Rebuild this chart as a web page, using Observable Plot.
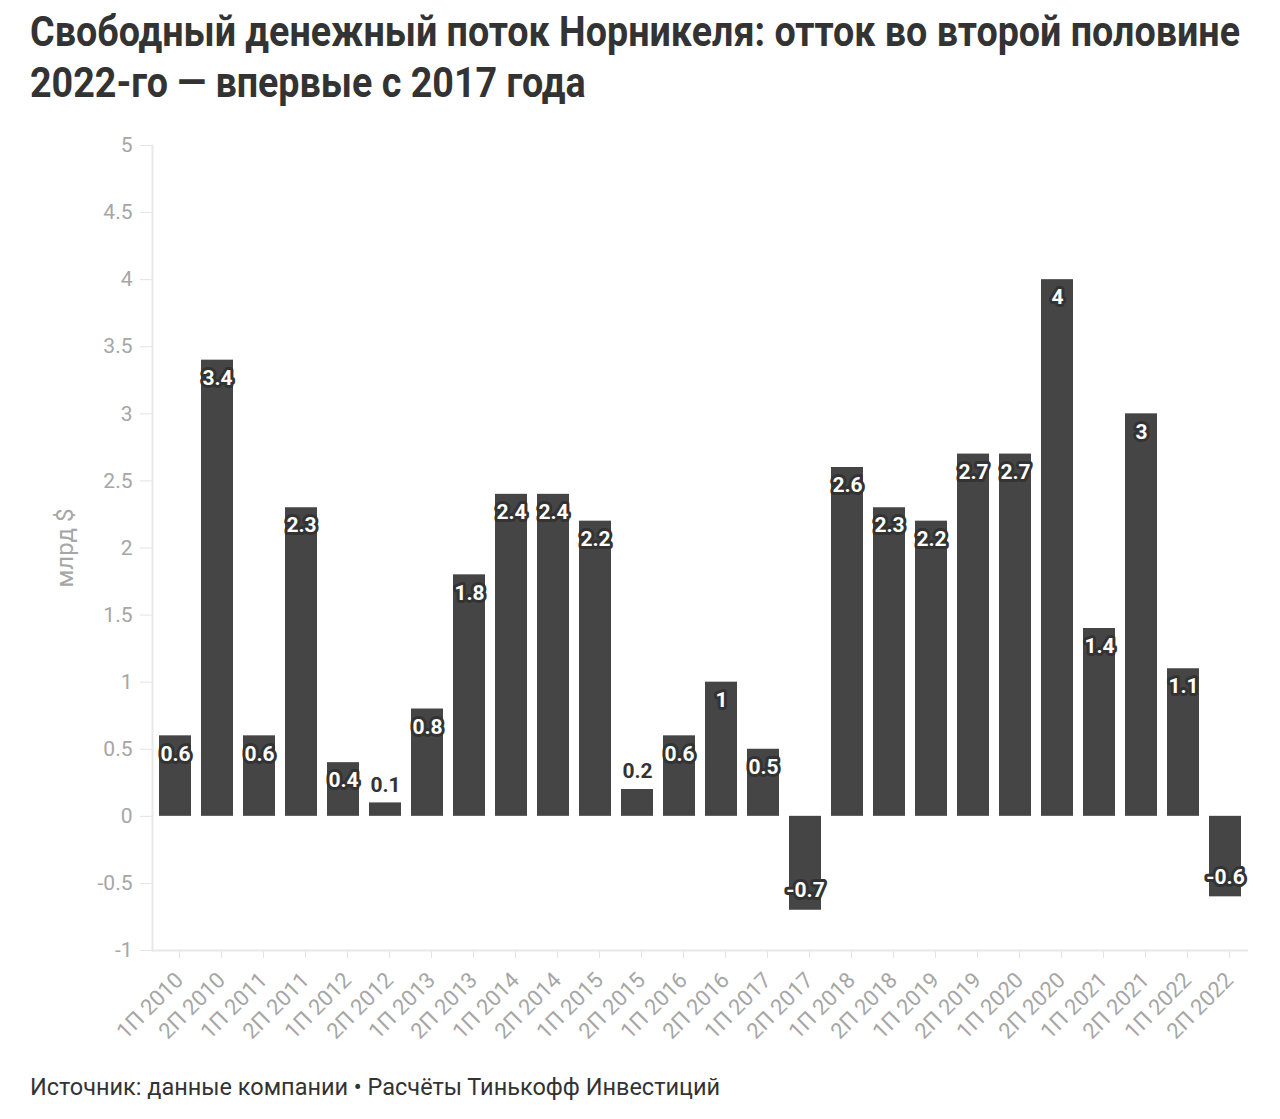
<!DOCTYPE html>
<html>
<head>
<meta charset="utf-8">
<script src="https://cdn.jsdelivr.net/npm/d3@7"></script>
<script src="https://cdn.jsdelivr.net/npm/@observablehq/plot@0.6"></script>
<style>
  html, body { margin: 0; padding: 0; background: #fff; }
  body { width: 1280px; height: 1119px; position: relative; overflow: hidden; font-family: Roboto, sans-serif; }
  #title { position: absolute; left: 30px; top: 6px; font-size: 42px; line-height: 51px; font-weight: 700; color: #333; white-space: nowrap; transform-origin: 0 0; }
  #chart { position: absolute; left: 0; top: 120px; }
  #footer { position: absolute; left: 30px; top: 1073px; font-size: 24px; color: #333; white-space: nowrap; transform-origin: 0 0; }
</style>
</head>
<body>
<div id="title"><span id="t1">Свободный денежный поток Норникеля: отток во второй половине</span><br>2022-го — впервые с 2017 года</div>
<div id="chart"></div>
<div id="footer">Источник: данные компании • Расчёты Тинькофф Инвестиций</div>
<script>
const periods = ["1П 2010","2П 2010","1П 2011","2П 2011","1П 2012","2П 2012","1П 2013","2П 2013","1П 2014","2П 2014","1П 2015","2П 2015","1П 2016","2П 2016","1П 2017","2П 2017","1П 2018","2П 2018","1П 2019","2П 2019","1П 2020","2П 2020","1П 2021","2П 2021","1П 2022","2П 2022"];
const fcf = [0.6,3.4,0.6,2.3,0.4,0.1,0.8,1.8,2.4,2.4,2.2,0.2,0.6,1,0.5,-0.7,2.6,2.3,2.2,2.7,2.7,4,1.4,3,1.1,-0.6];
const yTicks = [-1,-0.5,0,0.5,1,1.5,2,2.5,3,3.5,4,4.5,5];
const yLabel = "млрд $";

// condensed look: squeeze title and footer horizontally to the reference widths
const t1 = document.getElementById("t1");
document.getElementById("title").style.transform = `scaleX(${1210 / t1.getBoundingClientRect().width})`;
const footer = document.getElementById("footer");
footer.style.transform = `scaleX(${690 / footer.getBoundingClientRect().width})`;

const data = periods.map((p, i) => ({period: p, value: fcf[i]}));
const isOutside = d => d.value > 0 && d.value < 0.3;
const insidePos = data.filter(d => d.value >= 0.3);
const insideNeg = data.filter(d => d.value < 0);
const outside = data.filter(isOutside);
const halo = {fill: "#fff", stroke: "#333", strokeWidth: 6, strokeLinejoin: "round", fontSize: 21, fontWeight: 700};

const chart = Plot.plot({
  width: 1280,
  height: 940,
  marginLeft: 152,
  marginRight: 32,
  marginTop: 25,
  marginBottom: 110,
  style: {fontFamily: "Roboto, sans-serif", background: "#fff"},
  x: {domain: periods, paddingInner: 0.24, paddingOuter: 0.12, align: 0.5},
  y: {domain: [-1, 5]},
  marks: [
    Plot.axisY({ticks: yTicks, tickFormat: d => String(d), tickSize: 12, tickPadding: 8, stroke: "#e3e3e3", fill: "#a6a6a6", fontSize: 21, label: null}),
    Plot.axisX({tickSize: 8, tickPadding: 18, tickRotate: -45, dx: 4, stroke: "#e3e3e3", fill: "#a6a6a6", fontSize: 22, label: null}),
    Plot.text([yLabel], {text: d => d, frameAnchor: "left", textAnchor: "middle", rotate: -90, dx: -87, fill: "#a6a6a6", fontSize: 24}),
    Plot.frame({anchor: "left", stroke: "#e8e8e8", strokeWidth: 2}),
    Plot.ruleY([-1], {stroke: "#e8e8e8", strokeWidth: 2}),
    Plot.barY(data, {x: "period", y: "value", fill: "#454545"}),
    Plot.text(insidePos, {x: "period", y: "value", text: d => String(d.value), dy: 18, ...halo}),
    Plot.text(insideNeg, {x: "period", y: "value", text: d => String(d.value), dy: -20, ...halo}),
    Plot.text(outside, {x: "period", y: "value", text: d => String(d.value), dy: -18, fill: "#333", stroke: "#fff", strokeWidth: 6, strokeLinejoin: "round", fontSize: 21, fontWeight: 700})
  ]
});
document.getElementById("chart").appendChild(chart);
</script>
</body>
</html>
